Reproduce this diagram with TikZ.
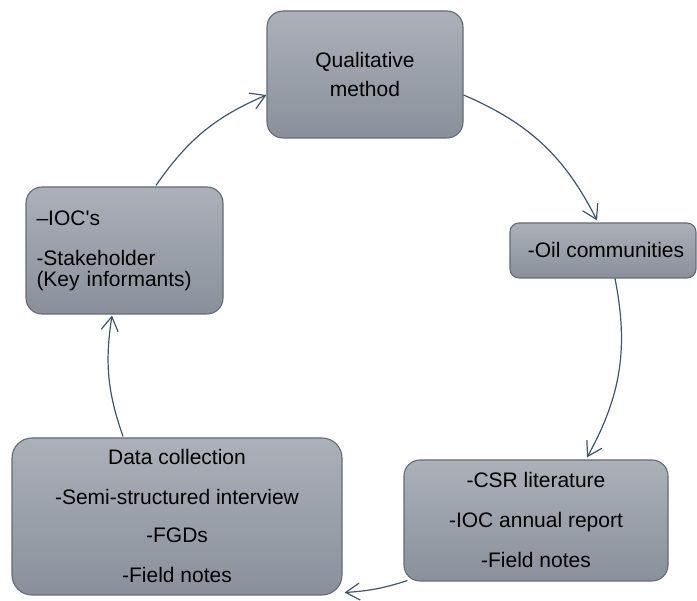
\documentclass[tikz,border=0pt]{standalone}
\usepackage{fontspec}
\setmainfont{Liberation Sans}
\usetikzlibrary{arrows.meta}
\definecolor{boxtop}{HTML}{ABB0B9}
\definecolor{boxbot}{HTML}{8A909B}
\definecolor{boxline}{HTML}{656A73}
\definecolor{flow}{HTML}{44546A}
\tikzset{
  stagebox/.style={draw=boxline, line width=1.1pt, top color=boxtop, bottom color=boxbot,
    rounded corners=16pt, inner sep=0pt, text=black,
    font=\fontsize{21}{21}\selectfont},
  flowarrow/.style={draw=flow, line width=1.2pt,
    -{Straight Barb[length=14pt,width=17pt,line width=1.2pt]}},
}
\begin{document}
\begin{tikzpicture}[x=1pt,y=1pt]
\useasboundingbox (0,0) rectangle (697,601);

\node[stagebox, minimum width=196pt, minimum height=127pt, align=center]
  (qual) at (365,526.5) {Qualitative\\[8pt]method};
\node[stagebox, minimum width=186pt, minimum height=55pt, rounded corners=9pt]
  (oil) at (603,350.5) {\hspace{6pt}-Oil communities};
\node[stagebox, minimum width=264pt, minimum height=121pt, align=center]
  (csr) at (536,80.5) {-CSR literature\\[19pt]-IOC annual report\\[19pt]-Field notes};
\node[stagebox, minimum width=330pt, minimum height=157pt, rounded corners=20pt, align=center]
  (data) at (177,84.5) {Data collection\\[18.5pt]-Semi-structured interview\\[17.5pt]-FGDs\\[19pt]-Field notes};
\node[stagebox, minimum width=197pt, minimum height=127pt, align=left, text width=176pt]
  (ioc) at (124.5,350.5) {--IOC\textquotesingle s\\[19pt]-Stakeholder\\(Key informants)};

\draw[flowarrow] ([yshift=-20.5pt]qual.east) to[bend left=20] ([xshift=-6pt,yshift=2pt]oil.north);
\draw[flowarrow] ([xshift=12pt]oil.south) to[bend left=20] ([xshift=51pt,yshift=2pt]csr.north);
\draw[flowarrow] ([xshift=4pt,yshift=1pt]csr.south west) to[bend left=7] ([xshift=2pt,yshift=3pt]data.south east);
\draw[flowarrow] ([xshift=-54pt,yshift=1pt]data.north) to[bend left=14] ([xshift=-12.5pt,yshift=-1pt]ioc.south);
\draw[flowarrow] ([xshift=31.5pt,yshift=1pt]ioc.north) to[bend left=16] ([yshift=-20.5pt]qual.west);
\end{tikzpicture}
\end{document}
